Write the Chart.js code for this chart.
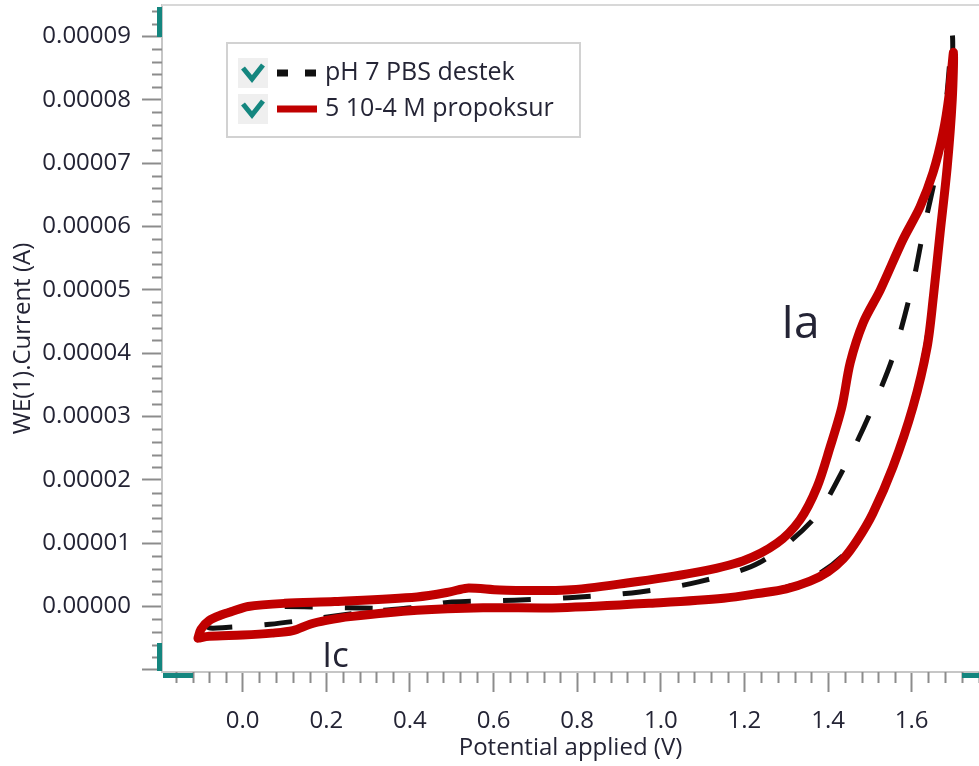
<!DOCTYPE html>
<html>
<head>
<meta charset="utf-8">
<title>Propoksur CV</title>
<script src="https://cdn.jsdelivr.net/npm/chart.js@4.4.1/dist/chart.umd.min.js"></script>
<style>
  html, body { margin: 0; padding: 0; background: #fff; }
  canvas { display: block; }
</style>
</head>
<body>
<canvas id="cvChart" width="979" height="766"></canvas>
<script>
// potential (V) / current (A), loop starts at the left turning point
var pbsPotential = [-0.090, -0.078, -0.040, 0.065, 0.185, 0.300, 0.417, 0.500, 0.650, 0.780,
  0.950, 1.090, 1.235, 1.364, 1.436, 1.501, 1.555, 1.603, 1.627, 1.661, 1.683, 1.697,
  1.697, 1.684, 1.667, 1.648, 1.632, 1.600, 1.558, 1.507, 1.453, 1.374, 1.261, 1.000,
  0.760, 0.550, 0.420, 0.250, 0.100, 0.000, -0.030, -0.060, -0.085, -0.090];
var pbsCurrent = [-3.0e-6, -3.4e-6, -3.3e-6, -2.8e-6, -1.8e-6, -0.8e-6, -0.1e-6, 0.7e-6, 1.0e-6, 1.4e-6,
  2.3e-6, 3.9e-6, 6.9e-6, 13.7e-6, 21.6e-6, 30.6e-6, 39.4e-6, 51.1e-6, 59.0e-6, 69.4e-6, 80.0e-6, 90.2e-6,
  83.0e-6, 70.0e-6, 59.0e-6, 48.4e-6, 40.5e-6, 31.5e-6, 22.7e-6, 15.0e-6, 9.2e-6, 5.0e-6, 2.4e-6, 0.7e-6,
  0.0e-6, -0.1e-6, -0.3e-6, -0.2e-6, 0.0e-6, -0.2e-6, -0.6e-6, -1.5e-6, -2.5e-6, -3.0e-6];

var propPotential = [-0.107, -0.100, -0.080, -0.050, -0.026, 0.013, 0.100, 0.220, 0.417, 0.496,
  0.536, 0.615, 0.776, 0.919, 1.077, 1.196, 1.278, 1.333, 1.374, 1.405, 1.433, 1.453, 1.484,
  1.525, 1.579, 1.620, 1.651, 1.675, 1.690, 1.700,
  1.697, 1.685, 1.668, 1.652, 1.637, 1.603, 1.555, 1.507, 1.470, 1.436, 1.400, 1.357, 1.300, 1.237,
  1.150, 0.998, 0.759, 0.575, 0.417, 0.257, 0.200, 0.161, 0.120, 0.070, 0.000, -0.080, -0.107];
var propCurrent = [-5.0e-6, -3.6e-6, -2.2e-6, -1.3e-6, -0.8e-6, 0.0e-6, 0.5e-6, 0.8e-6, 1.5e-6, 2.3e-6,
  2.9e-6, 2.6e-6, 2.6e-6, 3.7e-6, 5.3e-6, 7.2e-6, 10.0e-6, 13.7e-6, 18.9e-6, 25.2e-6, 31.5e-6, 38.5e-6, 44.8e-6,
  50.0e-6, 57.9e-6, 63.1e-6, 68.5e-6, 74.8e-6, 81.0e-6, 87.5e-6,
  80.0e-6, 69.4e-6, 59.0e-6, 49.0e-6, 41.0e-6, 31.5e-6, 22.0e-6, 14.7e-6, 10.5e-6, 7.5e-6, 5.5e-6, 4.0e-6, 2.8e-6, 2.1e-6,
  1.3e-6, 0.6e-6, -0.2e-6, -0.2e-6, -0.6e-6, -1.6e-6, -2.2e-6, -2.8e-6, -3.8e-6, -4.2e-6, -4.5e-6, -4.7e-6, -5.0e-6];

var seriesLabels = ['pH 7 PBS destek', '5 10-4 M propoksur'];
var peakNames = ['Ia', 'Ic'];

function toPoints(xs, ys) {
  return xs.map(function (x, i) { return { x: x, y: ys[i] }; });
}

var textColor = '#242435';
var tealColor = '#14867f';
Chart.defaults.font.family = "'Open Sans', sans-serif";
Chart.defaults.color = textColor;

// minor ticks, frame line, teal axis handles, legend box, peak labels
var decorations = {
  id: 'decorations',
  afterDraw: function (chart) {
    var ctx = chart.ctx, xs = chart.scales.x, ys = chart.scales.y, area = chart.chartArea;
    ctx.save();

    ctx.strokeStyle = '#d8d8d8';
    ctx.lineWidth = 2;
    ctx.beginPath();
    ctx.moveTo(area.left, area.top); ctx.lineTo(area.right, area.top);
    ctx.stroke();

    ctx.strokeStyle = '#8c8c8c';
    ctx.lineWidth = 2;
    ctx.beginPath();
    for (var i = Math.ceil(xs.min / 0.04); i * 0.04 <= xs.max; i++) {
      if (i % 5 === 0) continue;
      var px = Math.round(xs.getPixelForValue(i * 0.04)) + 0.5;
      ctx.moveTo(px, area.bottom); ctx.lineTo(px, area.bottom + 11);
    }
    for (var j = Math.ceil(ys.min / 2e-6); j * 2e-6 <= ys.max; j++) {
      if (j % 5 === 0) continue;
      var py = Math.round(ys.getPixelForValue(j * 2e-6)) + 0.5;
      ctx.moveTo(area.left - 10, py); ctx.lineTo(area.left, py);
    }
    ctx.stroke();

    ctx.fillStyle = tealColor;
    ctx.fillRect(area.left - 5, area.top + 2, 5, 30);
    ctx.fillRect(area.left - 5, area.bottom - 29, 5, 28);
    ctx.fillRect(area.left + 1, area.bottom + 1, 30, 5);
    ctx.fillRect(area.right - 17, area.bottom + 1, 17, 5);

    // legend
    ctx.fillStyle = '#ffffff';
    ctx.fillRect(227, 43, 353, 94);
    ctx.strokeStyle = '#d2d2d2';
    ctx.lineWidth = 2;
    ctx.strokeRect(227, 43, 353, 94);
    chart.data.datasets.forEach(function (ds, k) {
      var top = 58 + k * 36;
      ctx.fillStyle = '#efefef';
      ctx.fillRect(238, top, 30, 30);
      ctx.strokeStyle = tealColor;
      ctx.lineWidth = 5;
      ctx.lineCap = 'butt';
      ctx.lineJoin = 'miter';
      ctx.setLineDash([]);
      ctx.beginPath();
      ctx.moveTo(243, top + 10); ctx.lineTo(252, top + 21); ctx.lineTo(263, top + 7);
      ctx.stroke();

      ctx.strokeStyle = ds.borderColor;
      ctx.lineWidth = 7;
      ctx.setLineDash(ds.borderDash && ds.borderDash.length ? [11, 17] : []);
      ctx.beginPath();
      ctx.moveTo(277, top + 15); ctx.lineTo(317, top + 15);
      ctx.stroke();
      ctx.setLineDash([]);

      ctx.fillStyle = textColor;
      ctx.font = "25px 'Open Sans', sans-serif";
      ctx.textBaseline = 'alphabetic';
      ctx.textAlign = 'left';
      ctx.fillText(ds.label, 325, top + 22);
    });

    // peak labels anchored in data space
    ctx.fillStyle = textColor;
    ctx.font = "46px 'Open Sans', sans-serif";
    ctx.fillText(peakNames[0], xs.getPixelForValue(1.288), ys.getPixelForValue(4.24e-5));
    ctx.font = "35px 'Open Sans', sans-serif";
    ctx.fillText(peakNames[1], xs.getPixelForValue(0.190), ys.getPixelForValue(-0.955e-5));

    ctx.restore();
  }
};

var ctx = document.getElementById('cvChart').getContext('2d');
var cvChart = new Chart(ctx, {
  type: 'scatter',
  data: {
    datasets: [{
      label: seriesLabels[0],
      data: toPoints(pbsPotential, pbsCurrent),
      showLine: true,
      borderColor: '#111111',
      borderWidth: 5,
      borderDash: [28, 32],
      pointRadius: 0,
      tension: 0.3,
      order: 1
    }, {
      label: seriesLabels[1],
      data: toPoints(propPotential, propCurrent),
      showLine: true,
      borderColor: '#c00000',
      borderWidth: 9,
      borderJoinStyle: 'round',
      borderCapStyle: 'round',
      pointRadius: 0,
      tension: 0.3,
      order: 0
    }]
  },
  options: {
    responsive: false,
    animation: false,
    layout: { padding: { top: 5, right: 0, left: 0, bottom: 0 } },
    plugins: {
      legend: { display: false },
      tooltip: { enabled: false }
    },
    scales: {
      x: {
        type: 'linear',
        min: -0.193,
        max: 1.761,
        afterFit: function (scale) {
          scale.height = 94;
          scale.paddingLeft = 0;
          scale.paddingRight = 0;
        },
        border: { color: '#c6c6c6', width: 2 },
        grid: { drawOnChartArea: false, tickLength: 20, tickColor: '#8c8c8c', tickWidth: 2 },
        ticks: {
          stepSize: 0.2,
          includeBounds: false,
          padding: 15,
          maxRotation: 0,
          font: { size: 24 },
          callback: function (v) { return v.toFixed(1); }
        },
        title: {
          display: true,
          text: 'Potential applied (V)',
          font: { size: 24 },
          padding: { top: 0, bottom: 3 }
        }
      },
      y: {
        type: 'linear',
        min: -1.034e-5,
        max: 9.497e-5,
        afterFit: function (scale) {
          scale.width = 162;
          scale.paddingTop = 0;
          scale.paddingBottom = 0;
        },
        border: { color: '#c6c6c6', width: 2 },
        grid: { drawOnChartArea: false, tickLength: 20, tickColor: '#8c8c8c', tickWidth: 2 },
        ticks: {
          stepSize: 1e-5,
          includeBounds: false,
          padding: 11,
          font: { size: 24 },
          callback: function (v) { return v < -1e-9 ? '' : v.toFixed(5); }
        },
        title: {
          display: true,
          text: 'WE(1).Current (A)',
          font: { size: 24 },
          padding: { top: 9, bottom: 0 }
        }
      }
    }
  },
  plugins: [decorations]
});
</script>
</body>
</html>
